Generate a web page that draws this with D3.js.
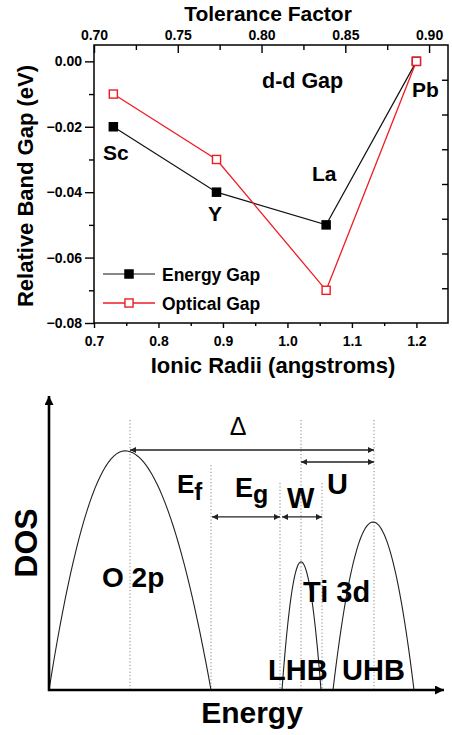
<!DOCTYPE html>
<html><head><meta charset="utf-8">
<script src="https://cdn.jsdelivr.net/npm/d3@7"></script>
<style>
html,body{margin:0;padding:0;background:#fff;}
svg{display:block;}
text{font-family:"Liberation Sans",Arial,Helvetica,sans-serif;font-weight:bold;fill:#000;}
</style></head>
<body>
<script>
// ---------- data: top chart ----------
const ions = ["Sc", "Y", "La", "Pb"];
const ionicRadii = [0.73, 0.89, 1.06, 1.20];
const energyGap = [-0.02, -0.04, -0.05, 0.00];
const opticalGap = [-0.01, -0.03, -0.07, 0.00];
const xMajorTicks = [0.7, 0.8, 0.9, 1.0, 1.1, 1.2];
const xMinorTicks = [0.75, 0.85, 0.95, 1.05, 1.15];
const yMajorTicks = [0.00, -0.02, -0.04, -0.06, -0.08];
const yMinorTicks = [-0.01, -0.03, -0.05, -0.07];
const topMajorTicks = [0.70, 0.75, 0.80, 0.85, 0.90];
const topMinorTicks = [0.725, 0.775, 0.825, 0.875];
const rightTicks = [1, 2, 3, 4, 5, 6, 7];

// ---------- data: DOS schematic ----------
const bandNames = ["O 2p", "LHB", "UHB"];
const bandStart = [0, 58.25, 71];
const bandPeak = [19, 63, 81];
const bandEnd = [40.5, 68, 91.25];
const bandHeight = [0.797, 0.427, 0.56];
const guideEnergy = [20.25, 40.5, 57.75, 63, 68.25, 81.25];
const guideTop = [0.9, 0.75, 0.69, 0.9, 0.69, 0.9];
const arrowFrom = [20.25, 63, 40.75, 58.25];
const arrowTo = [81.25, 81.25, 57.75, 68.25];
const arrowLevel = [0.8, 0.76, 0.577, 0.577];

const W = 452, H = 735;
const svg = d3.select("body").append("svg").attr("width", W).attr("height", H);

// ================= TOP CHART =================
const P = {l: 94, r: 448, t: 45, b: 323};
const x = d3.scaleLinear().domain([0.7, 1.249]).range([P.l, P.r]);
const xt = d3.scaleLinear().domain([0.7, 0.9113]).range([P.l, P.r]);
const y = d3.scaleLinear().domain([-0.08, 0.005]).range([P.b, P.t]);
const yr = d3.scaleLinear().domain([0, 8]).range([P.b, P.t]);

const fmt2 = d3.format(".2f"), fmt1 = d3.format(".1f");
const tickFont = "14px";

function styleAxis(g) {
  g.select(".domain").remove();
  g.selectAll("line").attr("stroke", "#000").attr("stroke-width", 1.4);
  g.selectAll("text").style("font-size", tickFont).attr("fill", "#000");
}

// bottom axis
svg.append("g").attr("transform", `translate(0,${P.b})`)
  .call(d3.axisBottom(x).tickValues(xMajorTicks).tickFormat(fmt1).tickSize(5).tickPadding(8))
  .call(styleAxis);
svg.append("g").attr("transform", `translate(0,${P.b})`)
  .call(d3.axisBottom(x).tickValues(xMinorTicks).tickFormat("").tickSize(3))
  .call(styleAxis);
// left axis
svg.append("g").attr("transform", `translate(${P.l},0)`)
  .call(d3.axisLeft(y).tickValues(yMajorTicks).tickFormat(fmt2).tickSize(9).tickPadding(3))
  .call(styleAxis);
svg.append("g").attr("transform", `translate(${P.l},0)`)
  .call(d3.axisLeft(y).tickValues(yMinorTicks).tickFormat("").tickSize(5))
  .call(styleAxis);
// top axis (ticks inward)
svg.append("g").attr("transform", `translate(0,${P.t})`)
  .call(d3.axisTop(xt).tickValues(topMajorTicks).tickFormat(fmt2).tickSizeInner(-8).tickSizeOuter(0).tickPadding(6))
  .call(g => { styleAxis(g); g.selectAll("text").attr("y", -5.5); });
svg.append("g").attr("transform", `translate(0,${P.t})`)
  .call(d3.axisTop(xt).tickValues(topMinorTicks).tickFormat("").tickSizeInner(-5).tickSizeOuter(0))
  .call(styleAxis);
// right axis (ticks inward)
svg.append("g").attr("transform", `translate(${P.r},0)`)
  .call(d3.axisRight(yr).tickValues(rightTicks).tickFormat("").tickSizeInner(-6).tickSizeOuter(0))
  .call(styleAxis);

// frame
svg.append("rect").attr("x", P.l).attr("y", P.t).attr("width", P.r - P.l).attr("height", P.b - P.t)
  .attr("fill", "none").attr("stroke", "#000").attr("stroke-width", 1.5);

// lines
const idx = d3.range(ions.length);
const lineE = d3.line().x(i => x(ionicRadii[i])).y(i => y(energyGap[i]));
const lineO = d3.line().x(i => x(ionicRadii[i])).y(i => y(opticalGap[i]));
svg.append("path").attr("d", lineE(idx)).attr("fill", "none").attr("stroke", "#111").attr("stroke-width", 1.2);
svg.append("path").attr("d", lineO(idx)).attr("fill", "none").attr("stroke", "#ee1c24").attr("stroke-width", 1.3);

const ms = 9.5;
svg.selectAll(".mE").data(idx).enter().append("rect")
  .attr("x", i => x(ionicRadii[i]) - ms / 2).attr("y", i => y(energyGap[i]) - ms / 2)
  .attr("width", ms).attr("height", ms).attr("fill", "#000");
svg.selectAll(".mO").data(idx).enter().append("rect")
  .attr("x", i => x(ionicRadii[i]) - ms / 2 + 0.7).attr("y", i => y(opticalGap[i]) - ms / 2 + 0.7)
  .attr("width", ms - 1.4).attr("height", ms - 1.4).attr("fill", "#fff").attr("stroke", "#ee1c24").attr("stroke-width", 1.4);

// point labels
const labelFont = "21px";
svg.append("text").attr("x", 103).attr("y", 160).style("font-size", labelFont).text(ions[0]);
svg.append("text").attr("x", 215).attr("y", 221).attr("text-anchor", "middle").style("font-size", labelFont).text(ions[1]);
svg.append("text").attr("x", 312).attr("y", 181).style("font-size", labelFont).text(ions[2]);
svg.append("text").attr("x", 412).attr("y", 97).style("font-size", labelFont).text(ions[3]);
svg.append("text").attr("x", 262).attr("y", 88).style("font-size", "21.5px").text("d-d Gap");

// legend
const legendNames = ["Energy Gap", "Optical Gap"];
const legendY = [274, 303];
svg.append("line").attr("x1", 103).attr("x2", 155).attr("y1", legendY[0]).attr("y2", legendY[0]).attr("stroke", "#111").attr("stroke-width", 1.2);
svg.append("rect").attr("x", 129 - ms / 2).attr("y", legendY[0] - ms / 2).attr("width", ms).attr("height", ms).attr("fill", "#000");
svg.append("line").attr("x1", 103).attr("x2", 155).attr("y1", legendY[1]).attr("y2", legendY[1]).attr("stroke", "#ee1c24").attr("stroke-width", 1.3);
svg.append("rect").attr("x", 129 - ms / 2 + 0.7).attr("y", legendY[1] - ms / 2 + 0.7).attr("width", ms - 1.4).attr("height", ms - 1.4)
  .attr("fill", "#fff").attr("stroke", "#ee1c24").attr("stroke-width", 1.4);
legendNames.forEach((n, i) => {
  svg.append("text").attr("x", 162).attr("y", legendY[i] + 6.5).style("font-size", "17.5px").text(n);
});

// axis titles
svg.append("text").attr("x", 268).attr("y", 21).attr("text-anchor", "middle").style("font-size", "21px").text("Tolerance Factor");
svg.append("text").attr("x", 273).attr("y", 373).attr("text-anchor", "middle").style("font-size", "22px").text("Ionic Radii (angstroms)");
svg.append("text").attr("transform", "translate(33,186) rotate(-90)").attr("text-anchor", "middle").style("font-size", "22px").text("Relative Band Gap (eV)");

// ================= DOS SCHEMATIC =================
const ox = 49, oy = 690;
const e = d3.scaleLinear().domain([0, 100]).range([ox, 449]);
const dos = d3.scaleLinear().domain([0, 1]).range([oy, 390]);

const defs = svg.append("defs");
defs.append("marker").attr("id", "bigHead").attr("viewBox", "0 0 10 10").attr("refX", 10).attr("refY", 5)
  .attr("markerUnits", "userSpaceOnUse").attr("markerWidth", 10).attr("markerHeight", 9).attr("orient", "auto")
  .append("path").attr("d", "M0,0 L10,5 L0,10 Z").attr("fill", "#000");
defs.append("marker").attr("id", "smallHead").attr("viewBox", "0 0 10 10").attr("refX", 10).attr("refY", 5)
  .attr("markerUnits", "userSpaceOnUse").attr("markerWidth", 9).attr("markerHeight", 6).attr("orient", "auto-start-reverse")
  .append("path").attr("d", "M0,0 L10,5 L0,10 Z").attr("fill", "#222");

// guides (dotted)
svg.selectAll(".guide").data(d3.range(guideEnergy.length)).enter().append("line")
  .attr("x1", i => e(guideEnergy[i])).attr("x2", i => e(guideEnergy[i]))
  .attr("y1", i => dos(guideTop[i])).attr("y2", dos(0))
  .attr("stroke", "#888").attr("stroke-width", 1).attr("stroke-dasharray", "1.2,2.2");

// bands
const bandLine = d3.line().x(d => e(d[0])).y(d => dos(d[1]));
bandNames.forEach((n, i) => {
  const pts = [];
  const N = 60;
  for (let k = 0; k <= N; k++) {
    const E = bandStart[i] + (bandEnd[i] - bandStart[i]) * k / N;
    const hw = E < bandPeak[i] ? bandPeak[i] - bandStart[i] : bandEnd[i] - bandPeak[i];
    const u = (E - bandPeak[i]) / hw;
    pts.push([E, Math.max(0, bandHeight[i] * (1 - u * u))]);
  }
  svg.append("path").attr("d", bandLine(pts)).attr("fill", "none").attr("stroke", "#222").attr("stroke-width", 1.1);
});

// arrows
d3.range(arrowFrom.length).forEach(i => {
  svg.append("line").attr("x1", e(arrowFrom[i])).attr("x2", e(arrowTo[i]))
    .attr("y1", dos(arrowLevel[i])).attr("y2", dos(arrowLevel[i]))
    .attr("stroke", "#222").attr("stroke-width", 1.3)
    .attr("marker-start", "url(#smallHead)").attr("marker-end", "url(#smallHead)");
});

// axes
svg.append("line").attr("x1", ox).attr("x2", ox).attr("y1", oy + 1).attr("y2", 396).attr("stroke", "#000").attr("stroke-width", 2.6).attr("marker-end", "url(#bigHead)");
svg.append("line").attr("x1", ox - 1).attr("x2", 444).attr("y1", oy).attr("y2", oy).attr("stroke", "#000").attr("stroke-width", 2.6).attr("marker-end", "url(#bigHead)");

// labels
svg.append("text").attr("x", 238).attr("y", 435).attr("text-anchor", "middle").style("font-size", "25px").style("font-weight", "normal").text("Δ");
const ef = svg.append("text").attr("x", 177).attr("y", 493).style("font-size", "26px");
ef.append("tspan").text("E");
ef.append("tspan").attr("dy", 7).style("font-size", "24px").text("f");
const eg = svg.append("text").attr("x", 235).attr("y", 497).style("font-size", "27px");
eg.append("tspan").text("E");
eg.append("tspan").attr("dy", 6).style("font-size", "25px").text("g");
svg.append("text").attr("x", 287).attr("y", 508).style("font-size", "29px").text("W");
svg.append("text").attr("x", 327).attr("y", 494).style("font-size", "29px").text("U");
svg.append("text").attr("x", 102).attr("y", 587).style("font-size", "28px").text(bandNames[0]);
svg.append("text").attr("x", 303).attr("y", 602).style("font-size", "29px").text("Ti 3d");
svg.append("text").attr("x", 268).attr("y", 680).style("font-size", "29px").text(bandNames[1]);
svg.append("text").attr("x", 342).attr("y", 680).style("font-size", "29px").text(bandNames[2]);
svg.append("text").attr("transform", "translate(37,543) rotate(-90)").attr("text-anchor", "middle").style("font-size", "32px").text("DOS");
svg.append("text").attr("x", 252).attr("y", 723).attr("text-anchor", "middle").style("font-size", "30px").text("Energy");
</script>
</body></html>
